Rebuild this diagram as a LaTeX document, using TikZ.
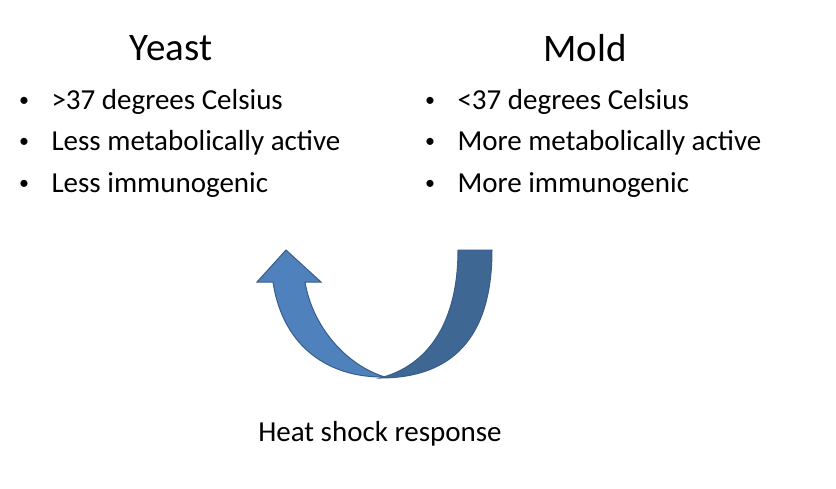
\documentclass[tikz,border=0pt]{standalone}
\usepackage{fontspec}
\setmainfont{Carlito}
\definecolor{lightb}{HTML}{4F81BD}
\definecolor{darkb}{HTML}{3F6794}
\definecolor{edgeb}{HTML}{385D8A}
\begin{document}
\begin{tikzpicture}[x=1pt,y=-1pt,
  title/.style={font=\fontsize{39}{44}\selectfont},
  item/.style={font=\fontsize{29}{33}\selectfont,anchor=west},
  dot/.style={font=\fontsize{20}{24}\selectfont}]
\useasboundingbox (0,0) rectangle (836,488);
\node[title] (yt) at (171,48) {Yeast};
\node[title] (mt) at (585,48) {Mold};
\node[dot] (b1) at (24,102) {•};
\node[dot] (b2) at (24,143) {•};
\node[dot] (b3) at (24,185) {•};
\node[item] (y1) at (48,102) {>37 degrees Celsius};
\node[item] (y2) at (48,143) {Less metabolically active};
\node[item] (y3) at (48,185) {Less immunogenic};
\node[dot] (c1) at (430,102) {•};
\node[dot] (c2) at (430,143) {•};
\node[dot] (c3) at (430,185) {•};
\node[item] (m1) at (454,102) {<37 degrees Celsius};
\node[item] (m2) at (454,143) {More metabolically active};
\node[item] (m3) at (454,185) {More immunogenic};
\node[font=\fontsize{29}{33}\selectfont] (hs) at (380,434) {Heat shock response};
\fill[darkb,draw=edgeb,line width=1pt] (458,250) -- (492,250) .. controls (492,340) and (450,378) .. (380,378)
  .. controls (430,365) and (458,320) .. (458,250) -- cycle;
\fill[lightb,draw=edgeb,line width=1pt] (273,282) .. controls (283,348) and (330,378) .. (385,377)
  .. controls (345,365) and (312,325) .. (305,282) -- (321,282) -- (286,250) -- (257,282) -- cycle;
\end{tikzpicture}
\end{document}
